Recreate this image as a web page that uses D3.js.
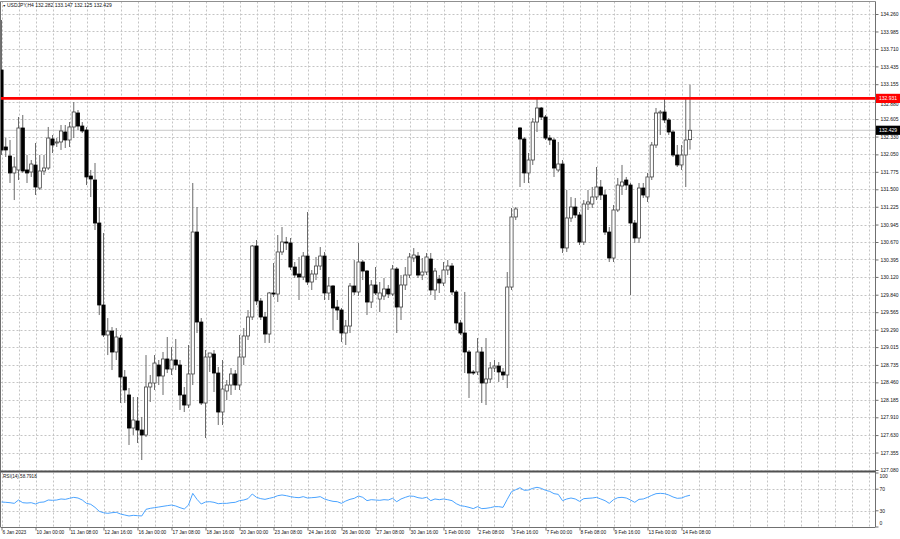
<!DOCTYPE html>
<html><head><meta charset="utf-8">
<script src="https://cdn.jsdelivr.net/npm/d3@7"></script>
<style>html,body{margin:0;padding:0;background:#fff;overflow:hidden}svg{display:block}</style>
</head><body><svg id="c" width="900" height="539"></svg>
<script>
const titleText = "USDJPY,H4  132.282 133.147 132.125 132.429";
const rsiTitle = "RSI(14) 58.7918";
const levelPrice = 132.931;
const lastPrice = 132.429;

const openP = [133.378,132.166,132.024,131.757,131.804,132.465,131.804,131.772,131.882,131.520,131.788,131.835,132.292,132.229,132.245,132.402,132.276,132.481,132.701,132.496,132.433,131.709,131.646,130.969,129.678,129.206,129.268,128.938,129.158,128.544,128.261,127.741,127.852,127.710,127.631,128.387,128.450,128.733,128.560,128.828,128.670,128.812,128.733,128.261,128.103,128.592,130.827,129.410,128.135,128.859,128.906,128.607,127.993,128.324,128.418,128.592,128.418,128.859,129.190,129.489,130.607,129.741,129.489,129.221,129.867,129.851,130.513,130.670,130.654,130.276,130.166,130.119,130.449,130.040,130.166,130.292,130.449,129.867,129.977,129.646,129.599,129.237,129.347,129.977,129.883,130.355,130.213,129.725,129.993,129.772,129.820,129.930,129.851,130.245,129.646,129.993,130.150,130.418,130.449,130.150,130.197,130.402,129.914,130.087,130.024,130.229,130.292,129.883,129.395,129.237,128.938,128.623,128.623,128.938,128.450,128.513,128.686,128.717,128.623,128.576,129.961,131.064,132.465,132.292,131.757,131.961,132.559,132.780,132.638,132.307,132.276,131.804,131.898,130.576,131.048,131.221,131.095,130.670,131.268,131.268,131.379,131.536,131.410,130.827,130.418,131.174,131.552,131.646,131.567,130.969,130.733,131.520,131.379,131.694,132.197,132.701,132.717,132.591,132.402,132.040,131.883,132.040,132.282];
const highP = [134.166,132.307,132.276,132.008,132.638,132.670,132.040,131.961,132.229,132.040,132.040,132.481,132.355,132.307,132.512,132.512,132.559,132.874,132.748,132.559,132.481,131.804,131.914,131.221,130.812,129.473,129.331,129.315,129.206,128.654,128.371,128.229,128.229,127.915,128.890,128.576,128.890,128.812,128.938,129.174,129.017,129.143,128.812,128.387,129.048,131.599,131.221,129.473,128.969,128.922,128.969,128.702,128.812,128.497,128.686,128.654,129.206,129.315,129.599,130.623,130.701,129.788,129.568,129.883,130.339,130.780,130.906,130.749,130.733,130.355,130.434,130.512,131.142,130.229,130.434,130.591,130.512,130.119,129.993,129.757,129.631,129.442,130.024,130.386,130.654,130.386,130.229,130.071,130.276,130.040,130.103,129.993,130.308,130.276,130.150,130.276,130.497,130.575,130.512,130.418,130.497,130.497,130.260,130.150,130.355,130.386,130.339,129.914,129.442,129.883,128.969,128.654,129.158,129.017,129.158,128.780,128.812,128.780,128.686,130.197,131.205,131.221,132.481,132.323,132.071,132.622,132.922,132.796,132.670,132.355,132.307,132.245,131.961,131.489,131.378,131.363,131.142,131.331,131.489,131.536,131.851,131.646,131.489,130.906,131.252,131.678,131.883,131.694,131.599,131.016,131.599,131.599,131.757,132.245,132.780,132.748,132.937,132.622,132.433,132.197,132.197,132.937,133.147];
const lowP = [132.040,132.008,131.599,131.331,131.646,131.757,131.599,131.694,131.410,131.489,131.725,131.804,132.071,132.166,132.119,132.150,132.166,132.307,132.433,132.386,131.567,131.378,130.859,129.520,129.174,128.890,128.654,128.812,128.135,128.135,127.474,127.631,127.505,127.237,127.600,128.151,128.340,128.418,128.261,128.607,128.576,128.654,128.025,127.993,128.056,128.418,129.237,128.103,127.584,128.623,128.308,127.789,127.789,128.182,128.261,128.340,128.340,128.733,129.127,129.442,129.678,129.442,129.080,129.080,129.804,129.725,130.465,130.544,130.229,130.103,129.757,130.071,129.993,129.914,130.071,130.229,129.757,129.757,129.284,129.442,129.096,129.048,129.237,129.835,129.820,130.071,129.520,129.631,129.835,129.568,129.757,129.788,129.820,129.237,129.442,129.914,130.103,130.355,130.103,130.071,130.150,129.835,129.757,129.867,129.977,130.150,129.835,129.284,129.206,128.607,128.214,128.576,128.576,128.135,128.103,128.450,128.623,128.466,128.497,128.371,129.914,131.016,131.536,131.599,131.599,131.883,132.402,132.591,132.276,132.197,131.694,131.772,130.497,130.513,130.985,131.048,130.623,130.623,131.174,131.206,131.331,131.331,130.780,130.355,130.355,131.142,131.410,131.489,129.835,130.654,130.654,131.363,131.300,131.646,132.150,132.355,132.544,132.355,132.008,131.851,131.804,131.536,132.125];
const closeP = [132.119,132.119,131.757,131.851,132.465,131.788,131.757,131.898,131.536,131.788,131.835,132.307,132.197,132.245,132.418,132.276,132.481,132.717,132.496,132.418,131.694,131.662,130.969,129.678,129.206,129.268,128.938,129.174,128.544,128.340,127.741,127.867,127.710,127.631,128.387,128.450,128.764,128.560,128.828,128.670,128.812,128.733,128.261,128.103,128.592,130.827,129.410,128.135,128.859,128.922,128.607,127.993,128.355,128.418,128.592,128.418,128.859,129.190,129.489,130.607,129.741,129.489,129.221,129.867,129.851,130.513,130.670,130.654,130.276,130.150,130.119,130.449,130.040,130.166,130.292,130.449,129.867,129.977,129.631,129.599,129.237,129.347,129.977,129.883,130.355,130.213,129.725,129.993,129.867,129.867,129.930,129.851,130.245,129.646,129.993,130.150,130.434,130.465,130.150,130.197,130.434,129.914,130.213,130.024,130.229,130.292,129.883,129.395,129.237,128.938,128.607,128.607,128.938,128.450,128.513,128.686,128.717,128.623,128.576,129.961,131.064,131.190,132.292,131.757,131.961,132.559,132.780,132.638,132.307,132.276,131.835,131.898,130.576,131.048,131.221,131.095,130.670,131.268,131.300,131.379,131.536,131.410,130.827,130.418,131.174,131.567,131.615,131.567,130.969,130.733,131.520,131.410,131.694,132.197,132.701,132.717,132.591,132.402,132.040,131.883,132.040,132.276,132.429];
const rsiValues = [46.3,45.7,45.0,43.8,50.0,45.0,44.4,45.0,42.6,45.7,46.3,50.0,49.4,50.0,51.9,51.2,53.1,54.9,53.7,50.0,43.8,42.0,36.4,29.0,26.5,25.3,26.5,27.2,24.1,22.2,20.4,21.6,21.0,20.4,32.7,34.6,35.8,37.0,38.3,39.5,40.7,38.9,35.8,33.3,40.7,62.3,51.2,42.6,46.3,46.9,45.7,43.2,43.8,43.8,45.0,45.7,48.8,50.0,52.5,61.1,54.9,52.5,51.2,53.1,54.9,58.0,59.3,58.0,56.2,54.9,54.3,56.2,53.7,54.3,54.9,56.2,51.9,49.4,47.5,46.9,43.8,48.1,51.2,53.1,57.4,54.9,48.8,50.6,50.0,49.4,50.6,50.0,53.1,46.9,51.9,54.9,57.4,56.8,54.3,53.1,54.9,48.8,51.9,50.6,51.9,50.6,48.8,43.2,39.5,38.3,36.4,34.0,37.7,34.0,34.6,35.8,37.7,37.7,36.4,51.2,65.4,69.1,72.8,67.9,68.5,71.6,73.5,71.6,67.9,66.0,61.7,60.5,48.8,51.9,53.7,51.9,47.5,52.5,53.1,53.7,54.9,51.9,48.8,43.8,50.6,54.3,54.9,53.7,50.0,45.7,51.2,51.9,54.9,58.6,61.7,62.3,61.7,59.3,55.6,53.1,53.7,56.8,58.79];
const priceTicks = [134.260,133.985,133.710,133.435,133.155,132.880,132.605,132.330,132.050,131.775,131.500,131.225,130.945,130.670,130.395,130.120,129.840,129.565,129.290,129.015,128.735,128.460,128.185,127.910,127.630,127.355,127.080];
const rsiTicks = [100, 70, 30, 0];
const rsiLevels = [70, 30];
const timeLabelBars = [0,8,16,24,32,40,48,56,64,72,80,88,96,104,112,120,128,136,144,152,160];
const timeLabels = ["6 Jan 2023","10 Jan 00:00","11 Jan 08:00","12 Jan 16:00","16 Jan 00:00","17 Jan 08:00","18 Jan 16:00","20 Jan 00:00","23 Jan 08:00","24 Jan 16:00","26 Jan 00:00","27 Jan 08:00","30 Jan 16:00","1 Feb 00:00","2 Feb 08:00","3 Feb 16:00","7 Feb 00:00","8 Feb 08:00","9 Feb 16:00","13 Feb 00:00","14 Feb 08:00"];

const svg = d3.select("#c");
const FONT = "'Liberation Sans', Arial, sans-serif";
const plotL = 0.5, plotR = 875.5;
const mainTop = 1.5, mainBot = 470.5, rsiTop = 472.5, rsiBot = 527;
const visibleBars = 205;

const x = d3.scaleLinear().domain([0, visibleBars]).range([1.5, 1.5 + visibleBars * 4.25]);
const y = d3.scaleLinear().domain([127.08, 134.26]).range([470, 14]);
const ry = d3.scaleLinear().domain([0, 100]).range([527, 473]);

svg.append("rect").attr("width", 900).attr("height", 539).attr("fill", "#fff");

const defs = svg.append("defs");
defs.append("clipPath").attr("id", "mainClip").append("rect")
  .attr("x", plotL).attr("y", mainTop).attr("width", plotR - plotL).attr("height", mainBot - mainTop);
defs.append("clipPath").attr("id", "rsiClip").append("rect")
  .attr("x", plotL).attr("y", rsiTop).attr("width", plotR - plotL).attr("height", rsiBot - rsiTop);

const gridColor = "#c4c4c4";
const gridBars = d3.range(0, visibleBars + 1, 4);

const gMain = svg.append("g").attr("clip-path", "url(#mainClip)");
gMain.selectAll("line.hg").data(priceTicks).join("line")
  .attr("x1", plotL).attr("x2", plotR)
  .attr("y1", d => Math.round(y(d)) + 0.5).attr("y2", d => Math.round(y(d)) + 0.5)
  .attr("stroke", gridColor).attr("stroke-dasharray", "2,2").attr("stroke-width", 1);
gMain.selectAll("line.vg").data(gridBars).join("line")
  .attr("x1", d => Math.round(x(d)) + 0.5).attr("x2", d => Math.round(x(d)) + 0.5)
  .attr("y1", mainTop).attr("y2", mainBot)
  .attr("stroke", gridColor).attr("stroke-dasharray", "2,2").attr("stroke-width", 1);

gMain.append("line").attr("x1", plotL).attr("x2", plotR)
  .attr("y1", y(lastPrice)).attr("y2", y(lastPrice))
  .attr("stroke", "#c8c8c8").attr("stroke-width", 1);

const bars = d3.range(openP.length).map(i => ({i, o: openP[i], h: highP[i], l: lowP[i], c: closeP[i]}));
const gC = gMain.append("g");
gC.selectAll("line.wick").data(bars).join("line")
  .attr("x1", d => x(d.i)).attr("x2", d => x(d.i))
  .attr("y1", d => y(d.h)).attr("y2", d => y(d.l))
  .attr("stroke", "#6a6a6a").attr("stroke-width", 1);
gC.selectAll("rect.body").data(bars).join("rect")
  .attr("x", d => x(d.i) - 1.6).attr("width", 3.2)
  .attr("y", d => y(Math.max(d.o, d.c)))
  .attr("height", d => Math.max(1, Math.abs(y(d.o) - y(d.c))))
  .attr("fill", d => d.c >= d.o ? "#fff" : "#000")
  .attr("stroke", d => d.c >= d.o ? "#444" : "#000")
  .attr("stroke-width", 0.8);

gMain.append("line").attr("x1", plotL).attr("x2", plotR)
  .attr("y1", y(levelPrice)).attr("y2", y(levelPrice))
  .attr("stroke", "#ff0000").attr("stroke-width", 2.6);

const gR = svg.append("g").attr("clip-path", "url(#rsiClip)");
gR.selectAll("line.hg").data(rsiLevels).join("line")
  .attr("x1", plotL).attr("x2", plotR)
  .attr("y1", d => Math.round(ry(d)) + 0.5).attr("y2", d => Math.round(ry(d)) + 0.5)
  .attr("stroke", gridColor).attr("stroke-dasharray", "2,2");
gR.selectAll("line.vg").data(gridBars).join("line")
  .attr("x1", d => Math.round(x(d)) + 0.5).attr("x2", d => Math.round(x(d)) + 0.5)
  .attr("y1", rsiTop).attr("y2", rsiBot)
  .attr("stroke", gridColor).attr("stroke-dasharray", "2,2");
gR.append("path").datum(rsiValues)
  .attr("d", d3.line().x((d, i) => x(i)).y(d => ry(d)))
  .attr("fill", "none").attr("stroke", "#4aa3ff").attr("stroke-width", 1);

const frame = svg.append("g").attr("fill", "none");
frame.append("line").attr("x1", plotL).attr("x2", plotR).attr("y1", mainTop).attr("y2", mainTop).attr("stroke", "#909090");
frame.append("line").attr("x1", plotL).attr("x2", plotL).attr("y1", mainTop).attr("y2", rsiBot).attr("stroke", "#707070");
frame.append("line").attr("x1", plotR).attr("x2", plotR).attr("y1", mainTop).attr("y2", rsiBot).attr("stroke", "#707070");
frame.append("line").attr("x1", plotL).attr("x2", plotR).attr("y1", 471.5).attr("y2", 471.5).attr("stroke", "#505050").attr("stroke-width", 2.2);
frame.append("line").attr("x1", plotL).attr("x2", plotR).attr("y1", rsiBot + 0.5).attr("y2", rsiBot + 0.5).attr("stroke", "#707070");

// price axis
const tagHalf = 4.6;
const pAxis = svg.append("g").attr("transform", `translate(${plotR},0)`)
  .call(d3.axisRight(y).tickValues(priceTicks).tickSize(3).tickPadding(2).tickFormat(d3.format(".3f")));
pAxis.select(".domain").remove();
pAxis.selectAll("line").attr("stroke", "#707070");
pAxis.selectAll("text").attr("font-family", FONT).attr("font-size", 5).attr("fill", "#111")
  .attr("dy", d => {
    // nudge a label that would sit under the red level tag to just below it
    const off = y(d) - y(levelPrice);
    return Math.abs(off) < tagHalf + 3 ? (tagHalf + 2.6 - off) + "px" : "0.32em";
  });

function axisTag(price, bg) {
  const g = svg.append("g").attr("transform", `translate(${plotR + 0.5},${y(price)})`);
  g.append("rect").attr("x", 0).attr("y", -tagHalf).attr("width", 24).attr("height", tagHalf * 2).attr("fill", bg);
  g.append("text").attr("x", 12).attr("y", 0).attr("dy", "0.35em").attr("text-anchor", "middle")
    .attr("font-family", FONT).attr("font-size", 5).attr("fill", "#fff").text(d3.format(".3f")(price));
}
axisTag(levelPrice, "#ff0000");
axisTag(lastPrice, "#000");

const rAxis = svg.append("g").attr("transform", `translate(${plotR},0)`);
rAxis.selectAll("text").data(rsiTicks).join("text")
  .attr("x", 4).attr("y", d => Math.min(Math.max(ry(d), 476.5), 523))
  .attr("dy", "0.35em").attr("font-family", FONT).attr("font-size", 5).attr("fill", "#111")
  .text(d => d);
rAxis.selectAll("line").data(rsiTicks).join("line")
  .attr("x1", 0).attr("x2", 3).attr("y1", d => ry(d)).attr("y2", d => ry(d)).attr("stroke", "#707070");

const tAxis = svg.append("g").attr("transform", `translate(0,${rsiBot + 0.5})`)
  .call(d3.axisBottom(x).tickValues(timeLabelBars).tickSize(3).tickFormat((d, i) => timeLabels[i]));
tAxis.select(".domain").remove();
tAxis.selectAll("line").attr("stroke", "#707070");
tAxis.selectAll("text").attr("text-anchor", "start").attr("x", 0.5).attr("y", 3.2)
  .attr("font-family", FONT).attr("font-size", 4.8).attr("fill", "#111");

svg.append("text").attr("x", 2.5).attr("y", 7).attr("font-family", FONT).attr("font-size", 3.5).attr("fill", "#222").text("\u25BC");
svg.append("text").attr("x", 7).attr("y", 7.3).attr("font-family", FONT).attr("font-size", 5).attr("fill", "#111").text(titleText);
svg.append("text").attr("x", 3).attr("y", 478).attr("font-family", FONT).attr("font-size", 4.6).attr("fill", "#111").text(rsiTitle);
</script></body></html>
